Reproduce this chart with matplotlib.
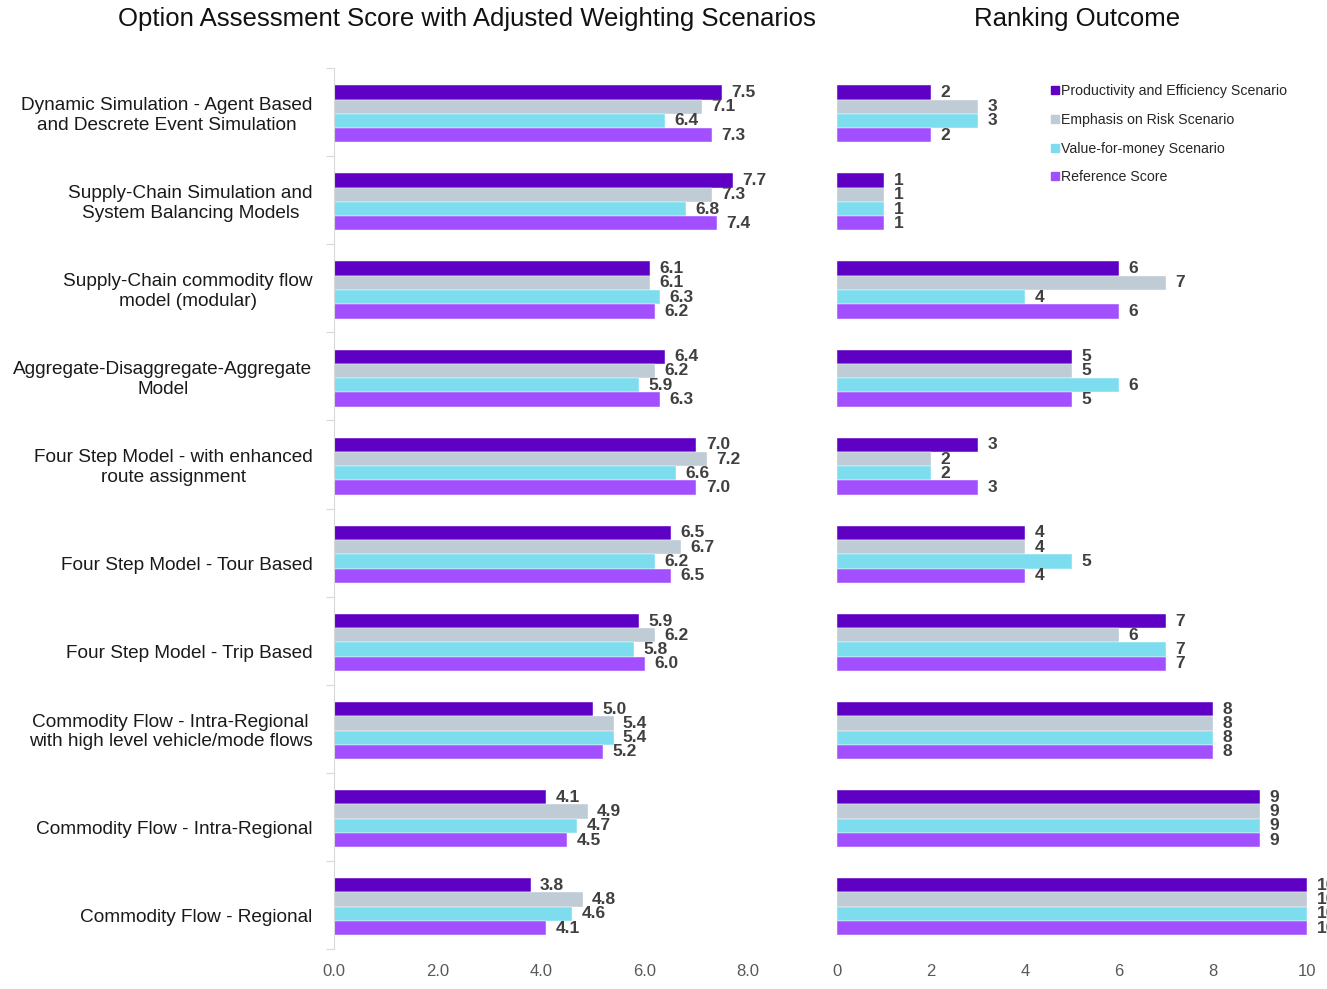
import numpy as np
import matplotlib.pyplot as plt
from matplotlib.lines import Line2D
from matplotlib.transforms import ScaledTranslation

plt.rcParams['font.family'] = ['Liberation Sans', 'DejaVu Sans']

options = [
    'Dynamic Simulation - Agent Based\nand Descrete Event Simulation',
    'Supply-Chain Simulation and\nSystem Balancing Models',
    'Supply-Chain commodity flow\nmodel (modular)',
    'Aggregate-Disaggregate-Aggregate\nModel',
    'Four Step Model - with enhanced\nroute assignment',
    'Four Step Model - Tour Based',
    'Four Step Model - Trip Based',
    'Commodity Flow - Intra-Regional\nwith high level vehicle/mode flows',
    'Commodity Flow - Intra-Regional',
    'Commodity Flow - Regional',
]
scenarios = ['Productivity and Efficiency Scenario', 'Emphasis on Risk Scenario',
             'Value-for-money Scenario', 'Reference Score']
colors = ['#5F00C5', '#BFCBD5', '#7DDDEF', '#A24FFF']

# assessment scores per scenario
productivity = [7.5, 7.7, 6.1, 6.4, 7.0, 6.5, 5.9, 5.0, 4.1, 3.8]
risk = [7.1, 7.3, 6.1, 6.2, 7.2, 6.7, 6.2, 5.4, 4.9, 4.8]
value_money = [6.4, 6.8, 6.3, 5.9, 6.6, 6.2, 5.8, 5.4, 4.7, 4.6]
reference = [7.3, 7.4, 6.2, 6.3, 7.0, 6.5, 6.0, 5.2, 4.5, 4.1]

# ranking per scenario
rank_productivity = [2, 1, 6, 5, 3, 4, 7, 8, 9, 10]
rank_risk = [3, 1, 7, 5, 2, 4, 6, 8, 9, 10]
rank_value_money = [3, 1, 4, 6, 2, 5, 7, 8, 9, 10]
rank_reference = [2, 1, 6, 5, 3, 4, 7, 8, 9, 10]

scores = [productivity, risk, value_money, reference]
ranks = [rank_productivity, rank_risk, rank_value_money, rank_reference]

fig = plt.figure(figsize=(13.27, 9.89), dpi=100)
bottom, top = 1 - 949 / 989, 1 - 68 / 989
ax1 = fig.add_axes([334 / 1327, bottom, 466 / 1327, top - bottom])
ax2 = fig.add_axes([837 / 1327, bottom, 470 / 1327, top - bottom])

n = len(options)
centers = np.arange(n) + 0.5
bar_h = 0.162
offsets = (np.arange(4) - 1.5) * bar_h + 0.02

label_kw = dict(va='center', ha='left', fontsize=12.5, fontweight='bold', color='#404040')

for i in range(4):
    ax1.barh(centers + offsets[i], scores[i], height=bar_h, color=colors[i],
             edgecolor='white', linewidth=0.3)
    for y, v in zip(centers + offsets[i], scores[i]):
        ax1.text(v + 0.18, y, f'{v:.1f}', **label_kw)
    ax2.barh(centers + offsets[i], ranks[i], height=bar_h, color=colors[i],
             edgecolor='white', linewidth=0.3)
    for y, v in zip(centers + offsets[i], ranks[i]):
        ax2.text(v + 0.2, y, f'{v}', clip_on=False, **label_kw)

for ax in (ax1, ax2):
    ax.set_ylim(n, 0)
    for s in ('top', 'right', 'bottom'):
        ax.spines[s].set_visible(False)
    ax.tick_params(axis='x', length=0, labelsize=12, labelcolor='#595959', pad=11)

ax1.set_xlim(0, 9)
ax1.set_xticks([0, 2, 4, 6, 8])
ax1.set_xticklabels([f'{t:.1f}' for t in [0, 2, 4, 6, 8]])
ax1.spines['left'].set_color('#D9D9D9')
ax1.set_yticks(np.arange(n + 1))
ax1.set_yticklabels([])
ax1.tick_params(axis='y', which='major', length=6, color='#D9D9D9')
ax1.set_yticks(centers, minor=True)
ax1.set_yticklabels(options, minor=True, fontsize=13.7, color='#1a1a1a',
                    multialignment='center')
ax1.tick_params(axis='y', which='minor', length=0, pad=15.5)
for lbl in ax1.get_yticklabels(minor=True):
    if '\n' not in lbl.get_text():
        lbl.set_transform(lbl.get_transform() + ScaledTranslation(0, -11 / 100, fig.dpi_scale_trans))

ax2.set_xlim(0, 10)
ax2.set_xticks([0, 2, 4, 6, 8, 10])
ax2.spines['left'].set_visible(False)
ax2.set_yticks([])

fig.text(467 / 1327, 1 - 19 / 989, 'Option Assessment Score with Adjusted Weighting Scenarios',
         ha='center', va='center', fontsize=18.5, color='#111111')
fig.text(1077 / 1327, 1 - 19 / 989, 'Ranking Outcome',
         ha='center', va='center', fontsize=18.5, color='#111111')

handles = [Line2D([0], [0], marker='s', linestyle='', color=c, markersize=6) for c in colors]
fig.legend(handles, scenarios, loc='upper left', bbox_to_anchor=(1038 / 1327, 1 - 71 / 989),
           frameon=False, fontsize=10.2, handlelength=0.6, handletextpad=0.15,
           labelspacing=1.05, labelcolor='#262626')

fig.savefig('out.png', dpi=100)
